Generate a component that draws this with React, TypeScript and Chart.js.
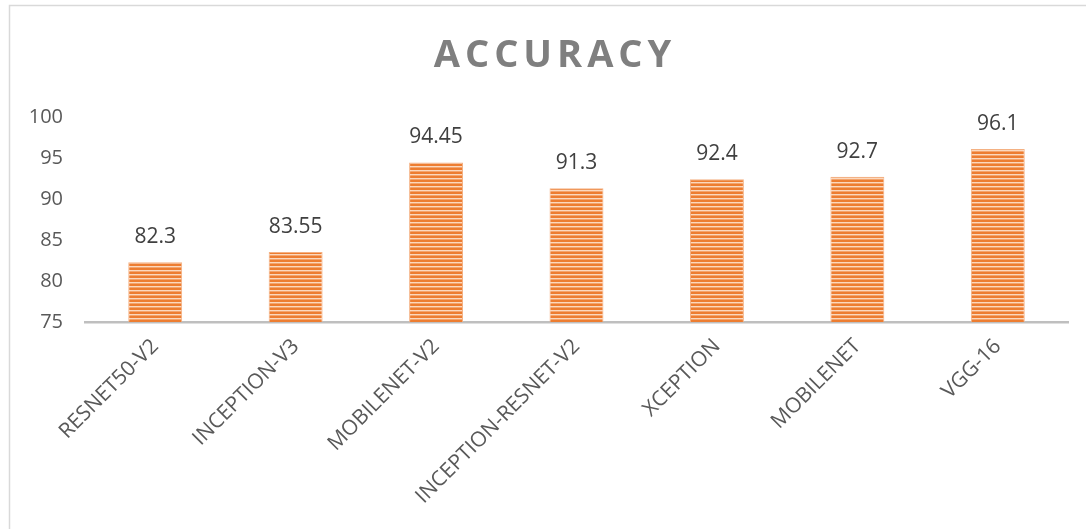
import React, { useEffect, useRef } from "react";
import { Chart, registerables } from "chart.js";

Chart.register(...registerables);

const categories = [
  "RESNET50-V2",
  "INCEPTION-V3",
  "MOBILENET-V2",
  "INCEPTION-RESNET-V2",
  "XCEPTION",
  "MOBILENET",
  "VGG-16",
];
const accuracy = [82.3, 83.55, 94.45, 91.3, 92.4, 92.7, 96.1];
const yTicks = [75, 80, 85, 90, 95, 100];
const titleText = "ACCURACY";

const FONT = "'Open Sans', 'Noto Sans', sans-serif";

function makePattern(ctx: CanvasRenderingContext2D) {
  const c = document.createElement("canvas");
  c.width = 4;
  c.height = 4;
  const p = c.getContext("2d")!;
  p.fillStyle = "#ED7D31";
  p.fillRect(0, 0, 4, 2);
  p.fillStyle = "#FBD8BE";
  p.fillRect(0, 2, 4, 1);
  p.fillStyle = "#F4A46C";
  p.fillRect(0, 3, 4, 1);
  return ctx.createPattern(c, "repeat")!;
}

const decorPlugin = {
  id: "decor",
  beforeDraw(chart: any) {
    const ctx = chart.ctx;
    ctx.save();
    ctx.fillStyle = "#ffffff";
    ctx.fillRect(0, 0, chart.width, chart.height);
    ctx.strokeStyle = "#D9D9D9";
    ctx.lineWidth = 1.5;
    ctx.strokeRect(9.5, 5.5, 1300, 1000);
    ctx.restore();
  },
  afterDatasetsDraw(chart: any) {
    const ctx = chart.ctx;
    ctx.save();
    // title
    ctx.fillStyle = "#7F7F7F";
    ctx.font = `bold 38px ${FONT}`;
    (ctx as any).letterSpacing = "5px";
    ctx.textAlign = "center";
    ctx.textBaseline = "alphabetic";
    ctx.fillText(titleText, 555, 67);
    (ctx as any).letterSpacing = "0px";
    // data labels
    const meta = chart.getDatasetMeta(0);
    ctx.fillStyle = "#404040";
    ctx.font = `21px ${FONT}`;
    ctx.textBaseline = "middle";
    meta.data.forEach((bar: any, i: number) => {
      ctx.fillText(String(accuracy[i]), bar.x, bar.y - 25);
    });
    ctx.restore();
  },
};

export default function App() {
  const ref = useRef<HTMLCanvasElement>(null);
  useEffect(() => {
    const canvas = ref.current!;
    const ctx = canvas.getContext("2d")!;
    const pattern = makePattern(ctx);
    const chart = new Chart(canvas, {
      type: "bar",
      data: {
        labels: categories,
        datasets: [
          {
            data: accuracy,
            backgroundColor: pattern as any,
            borderColor: "#F4B183",
            borderWidth: 1,
            categoryPercentage: 1,
            barPercentage: 0.384,
          },
        ],
      },
      plugins: [decorPlugin],
      options: {
        responsive: false,
        animation: false,
        layout: { padding: { top: 117, right: 18, left: 0, bottom: 0 } },
        plugins: {
          legend: { display: false },
          title: { display: false },
          tooltip: { enabled: false },
        },
        scales: {
          x: {
            grid: { display: false, drawTicks: false },
            border: { display: true, color: "#BFBFBF", width: 2.5 },
            ticks: {
              color: "#595959",
              font: { family: FONT, size: 21 },
              minRotation: 45,
              maxRotation: 45,
              padding: 12,
              autoSkip: false,
            },
            afterFit: (s: any) => {
              s.height = 529 - 322;
            },
          },
          y: {
            min: 75,
            max: 100,
            afterBuildTicks: (s: any) => {
              s.ticks = yTicks.map((v) => ({ value: v }));
            },
            grid: { display: false, drawTicks: false },
            border: { display: false },
            ticks: {
              color: "#595959",
              font: { family: FONT, size: 20 },
              padding: 22,
            },
            afterFit: (s: any) => {
              s.width = 85;
            },
          },
        },
      },
    });
    return () => chart.destroy();
  }, []);
  return (
    <div style={{ position: "fixed", left: 0, top: 0, width: 1086, height: 529, background: "#fff" }}>
      <canvas ref={ref} width={1086} height={529} style={{ display: "block" }} />
    </div>
  );
}
